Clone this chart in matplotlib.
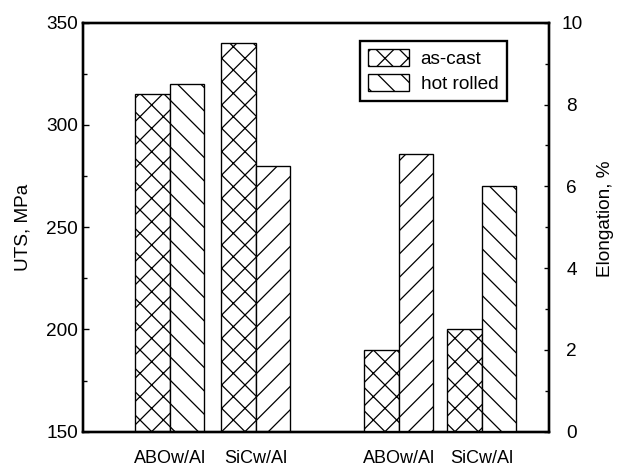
import matplotlib.pyplot as plt
from matplotlib.patches import Patch
from matplotlib.ticker import MultipleLocator

plt.rcParams['font.family'] = ['Liberation Sans', 'DejaVu Sans']
plt.rcParams['hatch.linewidth'] = 1.3

materials = ['ABOw/Al', 'SiCw/Al']
uts_cast = [315, 340]
uts_rolled = [320, 280]
elong_cast = [2.0, 2.5]
elong_rolled = [6.8, 6.0]
rolled_hatch_uts = ['\\', '/']
rolled_hatch_elong = ['/', '\\']

# dpi 70 so the hatch spacing comes out close to the original
fig = plt.figure(figsize=(8.9, 6.7), dpi=70)
ax = fig.add_axes([0.134, 0.0795, 0.747, 0.872])
ax2 = ax.twinx()

fs = 19.5
left_centers = [2.5, 5.0]
right_centers = [9.15, 11.55]
w = 1.0
bar_kw = dict(width=w, color='white', edgecolor='black', linewidth=1.4)

for i in range(len(materials)):
    ax.bar(left_centers[i] - w / 2, uts_cast[i], hatch='x', **bar_kw)
    ax.bar(left_centers[i] + w / 2, uts_rolled[i], hatch=rolled_hatch_uts[i], **bar_kw)
    ax2.bar(right_centers[i] - w / 2, elong_cast[i], hatch='x', **bar_kw)
    ax2.bar(right_centers[i] + w / 2, elong_rolled[i], hatch=rolled_hatch_elong[i], **bar_kw)

ax.set_xlim(0, 13.5)
ax.set_ylim(150, 350)
ax2.set_ylim(0, 10)

ax.set_xticks(left_centers + right_centers)
ax.set_xticklabels(materials + materials)
ax.tick_params(axis='x', length=0, pad=19, labelsize=fs - 1)

ax.yaxis.set_major_locator(MultipleLocator(50))
ax.yaxis.set_minor_locator(MultipleLocator(25))
ax.tick_params(axis='y', which='major', direction='in', length=6, width=1.4, pad=5.5, labelsize=fs)
ax.tick_params(axis='y', which='minor', direction='in', length=4, width=1.4)

ax2.yaxis.set_major_locator(MultipleLocator(2))
ax2.yaxis.set_minor_locator(MultipleLocator(1))
ax2.tick_params(axis='y', which='major', direction='in', length=5, width=1.4, pad=23.5, labelsize=fs)
ax2.tick_params(axis='y', which='minor', direction='in', length=4, width=1.4)
for lbl in ax2.get_yticklabels():
    lbl.set_horizontalalignment('center')

for a in (ax, ax2):
    for s in a.spines.values():
        s.set_linewidth(2.4)

ax.set_ylabel('UTS, MPa', fontsize=fs, va='center')
ax.yaxis.set_label_coords(-0.129, 0.5)
ax2.set_ylabel('Elongation, %', fontsize=fs, va='center')
ax2.yaxis.set_label_coords(1.122, 0.52)

handles = [Patch(facecolor='white', edgecolor='black', hatch='x', linewidth=1.4),
           Patch(facecolor='white', edgecolor='black', hatch='\\', linewidth=1.4)]
leg = ax2.legend(handles, ['as-cast', 'hot rolled'], loc='upper left',
                 bbox_to_anchor=(0.594, 0.956), borderaxespad=0, fontsize=fs,
                 handlelength=2.15, handleheight=1.0, handletextpad=0.6,
                 labelspacing=0.3, borderpad=0.45, fancybox=False, framealpha=1)
leg.get_frame().set_edgecolor('black')
leg.get_frame().set_linewidth(2.4)

fig.savefig('out.png', dpi=70)
